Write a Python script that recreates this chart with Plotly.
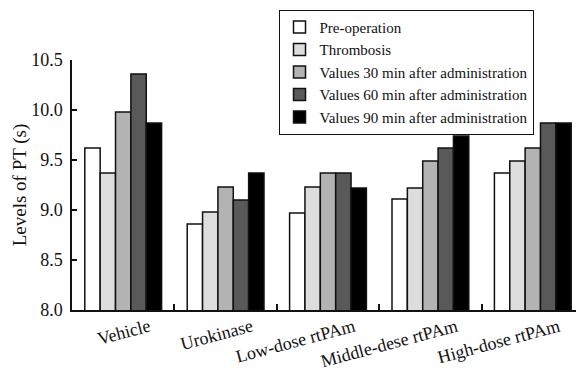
import plotly.graph_objects as go

categories = ["Vehicle", "Urokinase", "Low-dose rtPAm", "Middle-dese rtPAm", "High-dose rtPAm"]
series_names = [
    "Pre-operation",
    "Thrombosis",
    "Values 30 min after administration",
    "Values 60 min after administration",
    "Values 90 min after administration",
]
pre_operation = [9.62, 8.86, 8.97, 9.11, 9.37]
thrombosis = [9.37, 8.98, 9.23, 9.22, 9.49]
values_30min = [9.98, 9.23, 9.37, 9.49, 9.62]
values_60min = [10.36, 9.10, 9.37, 9.62, 9.87]
values_90min = [9.87, 9.37, 9.22, 9.74, 9.87]
y_ticks = [8.0, 8.5, 9.0, 9.5, 10.0, 10.5]

series_values = [pre_operation, thrombosis, values_30min, values_60min, values_90min]
colors = ["#ffffff", "#dcdddc", "#b3b3b3", "#595959", "#000000"]

FONT = "Liberation Serif"

fig = go.Figure()
for name, vals, col in zip(series_names, series_values, colors):
    fig.add_trace(go.Bar(
        x=categories, y=vals, name=name,
        marker=dict(color=col, line=dict(color="#111111", width=1.5)),
    ))

# The page body adds an 8px margin, so the figure is sized to 576x362.
fig.update_layout(
    width=576, height=362,
    margin=dict(l=64, r=0, t=52, b=60, autoexpand=False),
    paper_bgcolor="white", plot_bgcolor="white",
    barmode="group", bargap=0.25, bargroupgap=0,
    font=dict(family=FONT, size=18, color="#111111"),
    showlegend=True,
    legend=dict(
        xref="container", yref="container",
        x=0.691, y=0.995, xanchor="center", yanchor="top",
        bgcolor="white", bordercolor="#111111", borderwidth=1,
        font=dict(family=FONT, size=15, color="#111111"),
        tracegroupgap=0, itemwidth=30,
    ),
    xaxis=dict(
        range=[-0.5, 4.5], automargin=False,
        showline=True, linecolor="#111111", linewidth=1.5,
        ticks="inside", tickson="boundaries", ticklen=6, tickcolor="#111111", tickwidth=1.5,
        tickangle=-15, ticklabelshift=26, ticklabelstandoff=-2,
        showgrid=False, zeroline=False,
        tickfont=dict(family=FONT, size=18, color="#111111"),
    ),
    yaxis=dict(
        range=[8.0, 10.5], tickvals=y_ticks, tickformat=".1f", automargin=False,
        showline=True, linecolor="#111111", linewidth=1.5,
        ticks="inside", ticklen=5, tickcolor="#111111", tickwidth=1.5,
        ticklabelstandoff=4,
        showgrid=False, zeroline=False,
        tickfont=dict(family=FONT, size=18, color="#111111"),
        title=dict(text="Levels of PT (s)", font=dict(family=FONT, size=19, color="#111111"), standoff=0),
    ),
)

fig.write_html("out.html")
